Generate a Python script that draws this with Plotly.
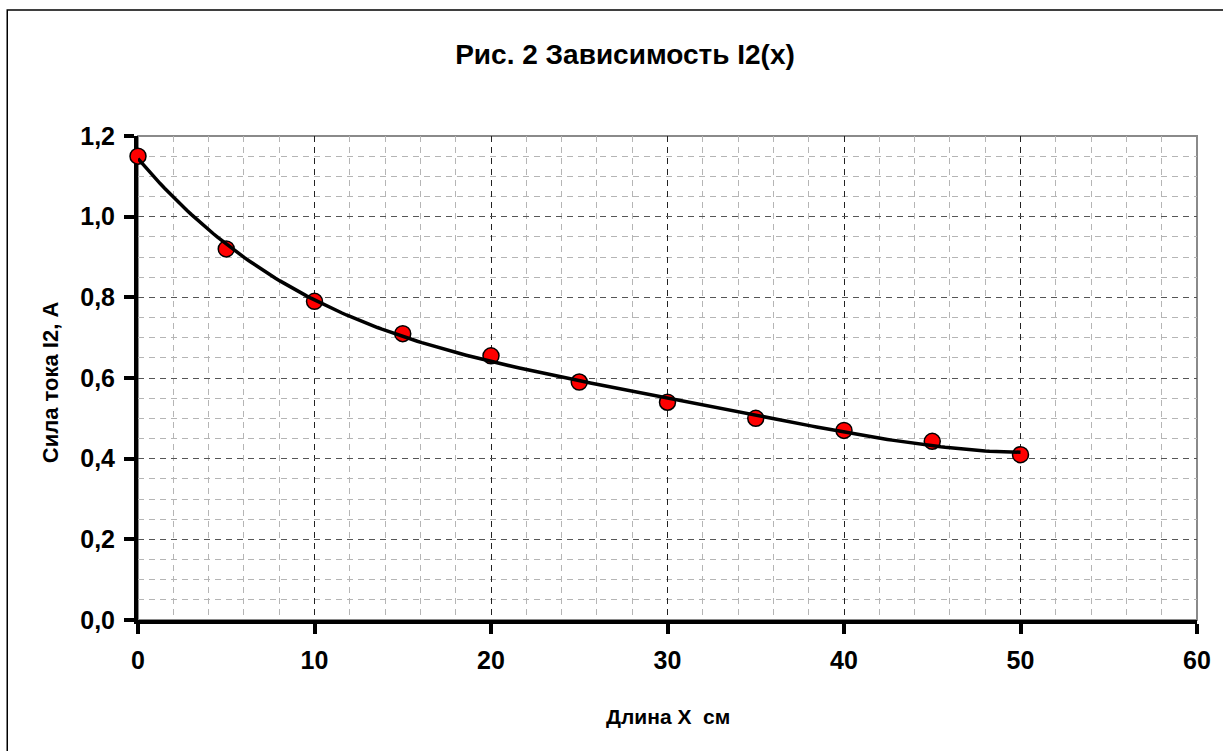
import numpy as np
import plotly.graph_objects as go

# Data
x_cm = [0, 5, 10, 15, 20, 25, 30, 35, 40, 45, 50]
i2_amp = [1.15, 0.92, 0.79, 0.71, 0.655, 0.59, 0.54, 0.50, 0.47, 0.443, 0.41]

title_text = "Рис. 2 Зависимость I2(x)"
x_title = "Длина X  см"
y_title = "Сила тока I2, А"

# Polynomial trendline fitted to the data (as in the original spreadsheet chart)
coef = np.polyfit(x_cm, i2_amp, 4)
x_fit = np.linspace(min(x_cm), max(x_cm), 200)
y_fit = np.polyval(coef, x_fit)

FONT = "Liberation Sans, Arial, sans-serif"

fig = go.Figure()
fig.add_trace(go.Scatter(
    x=x_cm, y=i2_amp, mode="markers",
    marker=dict(size=16, color="#ff0000", line=dict(color="black", width=1.5)),
    cliponaxis=False, showlegend=False,
))
fig.add_trace(go.Scatter(
    x=x_fit, y=y_fit, mode="lines",
    line=dict(color="black", width=3.5),
    cliponaxis=False, showlegend=False,
))

W, H = 1223, 751
ml, mr, mt, mb = 138, 24, 136, 131
pw, ph = W - ml - mr, H - mt - mb

fig.update_layout(
    width=W, height=H,
    margin=dict(l=ml, r=mr, t=mt, b=mb, pad=0),
    paper_bgcolor="white", plot_bgcolor="white",
    separators=", ",
    font=dict(family=FONT, color="black"),
    title=dict(text="<b>" + title_text + "</b>", x=625 / W, xref="container", xanchor="center",
               y=1 - 54 / H, yref="container", yanchor="middle",
               font=dict(family=FONT, size=28, color="black")),
    xaxis=dict(
        range=[0, 60], tick0=0, dtick=10, layer="below traces",
        showline=True, linecolor="black", linewidth=4,
        ticks="outside", ticklen=10, tickwidth=4, tickcolor="black",
        ticklabelstandoff=5,
        tickfont=dict(family=FONT, size=25, color="black", weight="bold"),
        showgrid=True, gridcolor="#222222", gridwidth=1, griddash="6px,5px",
        zeroline=False, fixedrange=True,
        minor=dict(dtick=2, tick0=0, showgrid=True, gridcolor="#b5b5b5",
                   gridwidth=1, griddash="6px,5px", ticks=""),
    ),
    yaxis=dict(
        range=[0, 1.2], tick0=0, dtick=0.2, tickformat=".1f", layer="below traces",
        showline=True, linecolor="black", linewidth=4,
        ticks="outside", ticklen=10, tickwidth=4, tickcolor="black",
        ticklabelstandoff=4,
        tickfont=dict(family=FONT, size=25, color="black", weight="bold"),
        showgrid=True, gridcolor="#555555", gridwidth=1, griddash="6px,5px",
        zeroline=False, fixedrange=True,
        minor=dict(dtick=0.05, tick0=0, showgrid=True, gridcolor="#b5b5b5",
                   gridwidth=1, griddash="6px,5px", ticks=""),
    ),
    shapes=[
        dict(type="rect", xref="paper", yref="paper", x0=0, x1=1, y0=0, y1=1,
             line=dict(color="#8a8a8a", width=2), layer="below"),
        dict(type="rect", xref="paper", yref="paper",
             x0=-(ml - 7) / pw, x1=1 + (mr + 20) / pw,
             y0=-(mb + 20) / ph, y1=1 + (mt - 10) / ph,
             line=dict(color="black", width=1.5), layer="below"),
    ],
    annotations=[
        dict(text="<b>" + x_title + "</b>", xref="paper", yref="paper",
             x=0.5, y=-(716 - (H - mb)) / ph, xanchor="center", yanchor="middle",
             showarrow=False, font=dict(family=FONT, size=21, color="black")),
        dict(text="<b>" + y_title + "</b>", xref="paper", yref="paper",
             x=-(ml - 50) / pw, y=0.5 - 4 / ph, xanchor="center", yanchor="middle",
             textangle=-90, showarrow=False,
             font=dict(family=FONT, size=22, color="black")),
    ],
)

fig.write_html("out.html", config={"displayModeBar": False},
               post_script="document.body.style.margin='0';document.body.style.overflow='hidden';")
